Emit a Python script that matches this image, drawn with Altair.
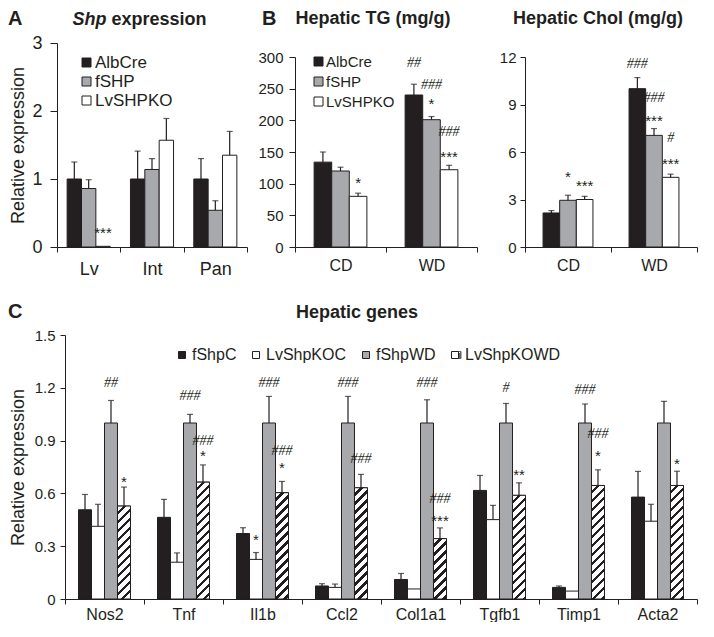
import altair as alt
import pandas as pd

FONT = "Liberation Sans"
SERIF = "Liberation Serif"
INK = "#231f20"
DARK = "#231f20"
GREY = "#a7a9ac"

# ---------------- Panel A : Shp expression ----------------
A_tissue = ["Lv", "Int", "Pan"]
A_geno = ["AlbCre", "fSHP", "LvSHPKO"]
A_albcre = [1.00, 1.00, 1.00]
A_albcre_err = [1.25, 1.41, 1.30]
A_fshp = [0.86, 1.14, 0.54]
A_fshp_err = [0.99, 1.30, 0.68]
A_ko = [0.01, 1.57, 1.35]
A_ko_err = [None, 1.89, 1.70]
A_sig = [("Lv", "LvSHPKO", 0.27, "***")]

# ---------------- Panel B : Hepatic TG / Chol ----------------
B_diet = ["CD", "WD"]
B_geno = ["AlbCre", "fSHP", "LvSHPKO"]
TG_albcre = [134, 240]
TG_albcre_err = [150, 257]
TG_fshp = [120, 201]
TG_fshp_err = [126, 206]
TG_ko = [80, 122]
TG_ko_err = [85, 129]
TG_sig = [("CD", "LvSHPKO", 108, "*"), ("WD", "AlbCre", 290, "##"),
          ("WD", "fSHP", 256, "###"), ("WD", "fSHP", 232, "*"),
          ("WD", "LvSHPKO", 182, "###"), ("WD", "LvSHPKO", 148, "***")]

CH_albcre = [2.15, 10.0]
CH_albcre_err = [2.30, 10.7]
CH_fshp = [2.95, 7.05]
CH_fshp_err = [3.27, 7.48]
CH_ko = [3.00, 4.40]
CH_ko_err = [3.20, 4.60]
CH_sig = [("CD", "fSHP", 4.65, "*"), ("CD", "LvSHPKO", 4.08, "***"),
          ("WD", "AlbCre", 11.58, "###"), ("WD", "fSHP", 9.39, "###"),
          ("WD", "fSHP", 8.22, "***"), ("WD", "LvSHPKO", 6.90, "#"),
          ("WD", "LvSHPKO", 5.50, "***")]

# ---------------- Panel C : Hepatic genes ----------------
C_genes = ["Nos2", "Tnf", "Il1b", "Ccl2", "Col1a1", "Tgfb1", "Timp1", "Acta2"]
C_grp = ["fShpC", "LvShpKOC", "fShpWD", "LvShpKOWD"]
C_fshpc = [0.507, 0.464, 0.372, 0.074, 0.111, 0.617, 0.066, 0.579]
C_fshpc_err = [0.594, 0.566, 0.405, 0.087, 0.145, 0.702, 0.074, 0.725]
C_koc = [0.413, 0.209, 0.225, 0.066, 0.057, 0.451, 0.045, 0.442]
C_koc_err = [0.538, 0.262, 0.264, 0.085, None, 0.532, None, 0.538]
C_fshpwd = [1.0, 1.0, 1.0, 1.0, 1.0, 1.0, 1.0, 1.0]
C_fshpwd_err = [1.128, 1.049, 1.151, 1.151, 1.132, 1.111, 1.108, 1.123]
C_kowd = [0.528, 0.664, 0.604, 0.632, 0.343, 0.589, 0.645, 0.645]
C_kowd_err = [0.636, 0.762, 0.668, 0.708, 0.404, 0.660, 0.734, 0.726]
C_sig = [("Nos2", "fShpWD", 1.23, "##"), ("Nos2", "LvShpKOWD", 0.69, "*"),
         ("Tnf", "fShpWD", 1.155, "###"), ("Tnf", "LvShpKOWD", 0.90, "###"),
         ("Tnf", "LvShpKOWD", 0.834, "*"),
         ("Il1b", "LvShpKOC", 0.36, "*"), ("Il1b", "fShpWD", 1.23, "###"),
         ("Il1b", "LvShpKOWD", 0.843, "###"), ("Il1b", "LvShpKOWD", 0.768, "*"),
         ("Ccl2", "fShpWD", 1.23, "###"), ("Ccl2", "LvShpKOWD", 0.796, "###"),
         ("Col1a1", "fShpWD", 1.225, "###"), ("Col1a1", "LvShpKOWD", 0.57, "###"),
         ("Col1a1", "LvShpKOWD", 0.466, "***"),
         ("Tgfb1", "fShpWD", 1.20, "#"), ("Tgfb1", "LvShpKOWD", 0.725, "**"),
         ("Timp1", "fShpWD", 1.19, "###"), ("Timp1", "LvShpKOWD", 0.938, "###"),
         ("Timp1", "LvShpKOWD", 0.834, "*"),
         ("Acta2", "LvShpKOWD", 0.79, "*")]

ONE = pd.DataFrame({"k": [0]})


def place(df, cats, genos, gw):
    """Slot position of each bar inside its category (category i spans [i, i+1])."""
    m = len(genos)
    ci = df["cat"].map({c: i for i, c in enumerate(cats)})
    gi = df["geno"].map({g: j for j, g in enumerate(genos)})
    bw = gw / m
    df["x0"] = ci + (1 - gw) / 2 + gi * bw
    df["x1"] = df["x0"] + bw
    df["xc"] = df["x0"] + bw / 2
    return df


def long_frame(cats, genos, means, errs, gw):
    rows = []
    for g, ms, es in zip(genos, means, errs):
        for c, m, e in zip(cats, ms, es):
            rows.append({"cat": c, "geno": g, "mean": m, "err": e})
    return place(pd.DataFrame(rows), cats, genos, gw)


def sig_frame(sig, cats, genos, gw):
    df = pd.DataFrame([{"cat": c, "geno": g, "ypos": y, "label": t} for c, g, y, t in sig])
    return place(df, cats, genos, gw)


def label(text, x, y, size, weight="bold", style="normal", align="left"):
    return alt.Chart(ONE).mark_text(
        text=text, font=FONT, fontSize=size, fontWeight=weight, fontStyle=style,
        align=align, baseline="alphabetic", color=INK
    ).encode(x=alt.value(x), y=alt.value(y))


def cat_axis(cats, size, pad):
    n = len(cats)
    names = "[" + ",".join(f"'{c}'" for c in cats) + "]"
    return alt.Axis(
        values=[k / 2 for k in range(2 * n + 1)],
        labelExpr=f"(datum.value % 1) == 0.5 ? {names}[floor(datum.value)] : ''",
        tickOpacity={"condition": {"test": "(datum.value % 1) == 0", "value": 1}, "value": 0},
        labelFontSize=size, tickSize=5, labelPadding=pad, labelOverlap=False,
        labelFlush=False, labelAngle=0, title=None)


def panel(df, cats, genos, colors, gw, width, height, ydom, yaxis, xaxis, legend,
          cap, sig, yrange=None, xrange=None, extra=(), hatch=None):
    ys_kw = dict(domain=ydom, nice=False, zero=True)
    if yrange:
        ys_kw["range"] = yrange
    xs_kw = dict(domain=[0, len(cats)], nice=False, zero=False)
    if xrange:
        xs_kw["range"] = xrange

    def X(field):
        return alt.X(f"{field}:Q", scale=alt.Scale(**xs_kw), axis=xaxis)

    def Y(field):
        return alt.Y(f"{field}:Q", scale=alt.Scale(**ys_kw), axis=yaxis)

    layers = [alt.Chart(df).mark_bar(stroke=INK, strokeWidth=1).encode(
        x=X("x0"), x2="x1:Q", y=Y("mean"), y2=alt.datum(0),
        fill=alt.Fill("geno:N", scale=alt.Scale(domain=genos, range=colors), legend=legend))]
    if hatch is not None:
        layers.extend(hatch(X, Y))
    edf = df.dropna(subset=["err"])
    layers.append(alt.Chart(edf).mark_rule(color=INK, strokeWidth=1.2).encode(
        x=X("xc"), y=Y("mean"), y2="err:Q"))
    layers.append(alt.Chart(edf).mark_tick(color=INK, thickness=1.2, size=cap,
                                           orient="horizontal").encode(
        x=X("xc"), y=Y("err")))
    sdf = sig_frame(sig, cats, genos, gw)
    hashes = sdf[sdf["label"].str.contains("#")]
    stars = sdf[sdf["label"].str.contains(r"\*")]
    if len(hashes):
        layers.append(alt.Chart(hashes).mark_text(
            font=SERIF, fontSize=14, fontStyle="italic", color=INK, baseline="middle").encode(
            x=X("xc"), y=Y("ypos"), text="label:N"))
    if len(stars):
        layers.append(alt.Chart(stars).mark_text(
            font=FONT, fontSize=15, color=INK, baseline="middle", dy=4).encode(
            x=X("xc"), y=Y("ypos"), text="label:N"))
    layers.extend(extra)
    return alt.layer(*layers).properties(width=width, height=height)


# ---------- Panel A ----------
A_GW = 0.68
A_df = long_frame(A_tissue, A_geno, [A_albcre, A_fshp, A_ko],
                  [A_albcre_err, A_fshp_err, A_ko_err], A_GW)
A_leg = alt.Legend(orient="none", legendX=21, legendY=11, title=None, direction="vertical",
                   symbolType="square", symbolSize=81, symbolStrokeColor=INK,
                   symbolStrokeWidth=1, labelFont=FONT, labelFontSize=17, labelColor=INK,
                   labelOffset=0, rowPadding=1, padding=0)
A_chart = panel(
    A_df, A_tissue, A_geno, [DARK, GREY, "white"], A_GW, 190, 204, [0, 3],
    alt.Axis(values=[0, 1, 2, 3], labelFontSize=18, tickSize=7, labelPadding=8,
             title="Relative expression", titleFontSize=18, titleFontWeight="normal",
             titleX=-34, titleY=102, titleBaseline="alphabetic", titleAngle=270),
    cat_axis(A_tissue, 18, 8), A_leg, 6, A_sig,
    extra=[label("A", -49, -18, 20),
           label("Shp", 49.5, -18, 18, style="italic", align="right"),
           label("expression", 54.5, -18, 18)])

# ---------- Panel B : TG ----------
B_GW = 0.58
TG_df = long_frame(B_diet, B_geno, [TG_albcre, TG_fshp, TG_ko],
                   [TG_albcre_err, TG_fshp_err, TG_ko_err], B_GW)
TG_leg = alt.Legend(orient="none", legendX=16, legendY=11, title=None, direction="vertical",
                    symbolType="square", symbolSize=81, symbolStrokeColor=INK,
                    symbolStrokeWidth=1, labelFont=FONT, labelFontSize=15, labelColor=INK,
                    labelOffset=0, rowPadding=4, padding=0)
TG_chart = panel(
    TG_df, B_diet, B_geno, [DARK, GREY, "white"], B_GW, 182, 204, [0, 300],
    alt.Axis(values=[0, 50, 100, 150, 200, 250, 300], labelFontSize=15, tickSize=6,
             labelPadding=6, title=None),
    cat_axis(B_diet, 16, 5), TG_leg, 6, TG_sig, yrange=[204, 14],
    extra=[label("B", -33, -18, 20),
           label("Hepatic TG (mg/g)", 78, -19, 18, align="center")])

# ---------- Panel B : Chol ----------
CH_df = long_frame(B_diet, B_geno, [CH_albcre, CH_fshp, CH_ko],
                   [CH_albcre_err, CH_fshp_err, CH_ko_err], B_GW)
CH_chart = panel(
    CH_df, B_diet, B_geno, [DARK, GREY, "white"], B_GW, 172, 204, [0, 12],
    alt.Axis(values=[0, 3, 6, 9, 12], labelFontSize=15, tickSize=5, labelPadding=4,
             title=None),
    cat_axis(B_diet, 16, 5), None, 6, CH_sig, yrange=[204, 14],
    extra=[label("Hepatic Chol (mg/g)", 73, -19, 18, align="center")])

# ---------- Panel C ----------
C_GW = 0.658
C_W, C_H, C_SHIFT = 632, 264, 8
C_df = long_frame(C_genes, C_grp, [C_fshpc, C_koc, C_fshpwd, C_kowd],
                  [C_fshpc_err, C_koc_err, C_fshpwd_err, C_kowd_err], C_GW)
C_BAR_W = (C_W / len(C_genes)) * C_GW / len(C_grp)


def hatch_gradient(w, h, period=9.0, dark=0.38):
    T = w + h
    d = w * w + h * h
    stops = []
    k = 0
    while k * period < T:
        a = k * period / T
        b = (k + 1 - dark) * period / T
        c = (k + 1) * period / T
        for off, col in ((a, "white"), (b, "white"), (b, INK), (c, INK)):
            stops.append({"offset": min(off, 1.0), "color": col})
        k += 1
    return {"gradient": "linear", "x1": 0, "y1": 0,
            "x2": T * w / d, "y2": T * h / d, "stops": stops}


def c_hatch(X, Y):
    out = []
    sub = C_df[C_df["geno"] == "LvShpKOWD"]
    for _, row in sub.iterrows():
        h = row["mean"] * C_H / 1.5
        grad = hatch_gradient(C_BAR_W, h)
        out.append(alt.Chart(pd.DataFrame([row])).mark_bar(
            stroke=INK, strokeWidth=1, fill=grad).encode(
            x=X("x0"), x2="x1:Q", y=Y("mean"), y2=alt.datum(0)))
    return out


C_leg = alt.Legend(orient="none", legendX=117, legendY=12, title=None, direction="horizontal",
                   symbolType="square", symbolSize=49, symbolStrokeColor=INK,
                   symbolStrokeWidth=1, labelFont=FONT, labelFontSize=16, labelColor=INK,
                   labelOffset=2, columnPadding=11, padding=0)
split = {"gradient": "linear", "x1": 0, "y1": 0, "x2": 1, "y2": 1,
         "stops": [{"offset": 0, "color": "white"}, {"offset": 0.5, "color": "white"},
                   {"offset": 0.5, "color": INK}, {"offset": 1, "color": INK}]}
leg_patch = alt.Chart(ONE).mark_square(size=49, filled=True, fill=split, stroke=INK,
                                       strokeWidth=1).encode(
    x=alt.value(400.5), y=alt.value(20))

C_chart = panel(
    C_df, C_genes, C_grp, [DARK, "white", GREY, "white"], C_GW, C_W + C_SHIFT, C_H, [0, 1.5],
    alt.Axis(values=[0, 0.3, 0.6, 0.9, 1.2, 1.5],
             labelExpr="datum.value == 0 ? '0' : format(datum.value, '.1f')",
             labelFontSize=15, tickSize=5, labelPadding=5, offset=-C_SHIFT,
             title="Relative expression", titleFontSize=18, titleFontWeight="normal",
             titleX=-42, titleY=132, titleBaseline="alphabetic", titleAngle=270),
    cat_axis(C_genes, 16, 2), C_leg, 6, C_sig, xrange=[C_SHIFT, C_W + C_SHIFT],
    hatch=c_hatch,
    extra=[label("C", -49, -17, 20),
           label("Hepatic genes", 300, -17, 18, align="center"),
           leg_patch])

top = alt.hconcat(A_chart, TG_chart, CH_chart, spacing=48, bounds="flush").resolve_scale(
    fill="independent").resolve_legend(fill="independent")

chart = alt.vconcat(top, C_chart, spacing=24).resolve_scale(
    fill="independent").resolve_legend(fill="independent").properties(
    padding={"top": 1, "left": 0, "right": 0, "bottom": 0}, background="white"
).configure_view(strokeWidth=0).configure_axis(
    grid=False, domainColor=INK, tickColor=INK, labelColor=INK, labelFont=FONT,
    titleFont=FONT, titleColor=INK, domainWidth=1, tickWidth=1)

chart.save("out.html", embed_options={"renderer": "svg", "actions": False})
